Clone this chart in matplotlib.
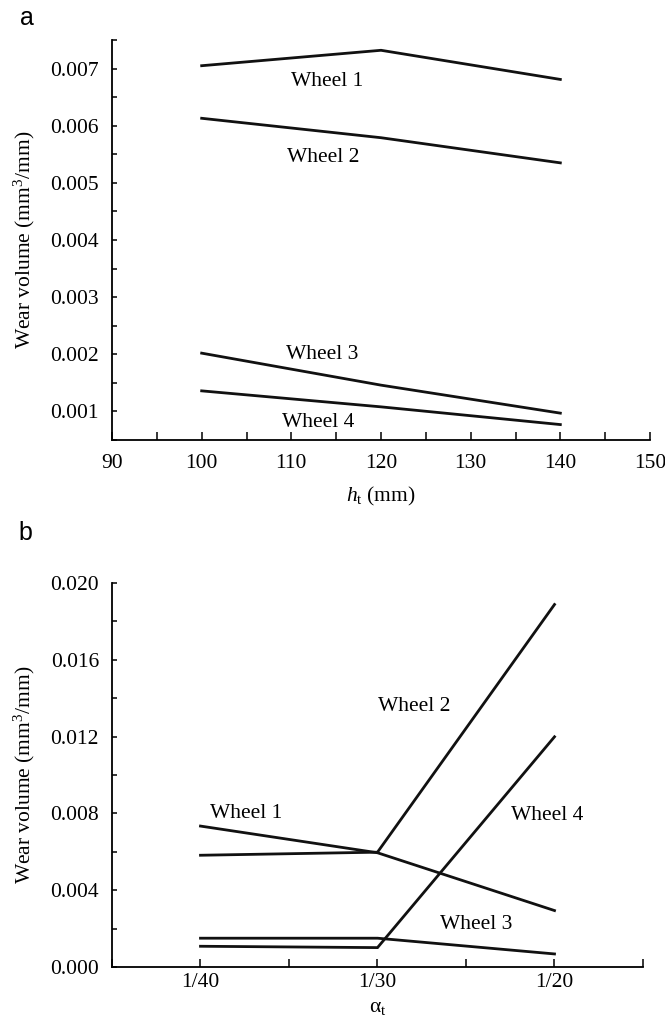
import matplotlib
matplotlib.use("Agg")
import matplotlib.pyplot as plt
from matplotlib.ticker import MultipleLocator, FixedLocator

plt.rcParams['font.family'] = ['Liberation Serif', 'DejaVu Serif']
plt.rcParams['mathtext.fontset'] = 'custom'
plt.rcParams['mathtext.rm'] = 'Liberation Serif'
plt.rcParams['mathtext.it'] = 'Liberation Serif:italic'
plt.rcParams['mathtext.bf'] = 'Liberation Serif:bold'

# ---- Panel a data ----
ht = [100, 120, 140]
a_wheel1 = [0.00705, 0.00732, 0.00681]
a_wheel2 = [0.00613, 0.00579, 0.00535]
a_wheel3 = [0.00202, 0.00146, 0.00097]
a_wheel4 = [0.00136, 0.00108, 0.00077]

# ---- Panel b data ----
alpha_labels = ['1/40', '1/30', '1/20']
b_wheel1 = [0.00734, 0.00595, 0.00294]
b_wheel2 = [0.00582, 0.00598, 0.01888]
b_wheel3 = [0.00150, 0.00150, 0.00068]
b_wheel4 = [0.00108, 0.00101, 0.01199]

W, H = 665, 1019
fig = plt.figure(figsize=(W / 100, H / 100), dpi=100)

def frac(l, t, r, b):
    return [l / W, 1 - b / H, (r - l) / W, (b - t) / H]

FS = 15.5
lw = 2.0

def style(ax, xpad):
    for s in ['top', 'right']:
        ax.spines[s].set_visible(False)
    for s in ['left', 'bottom']:
        ax.spines[s].set_linewidth(1.3)
    ax.tick_params(axis='x', which='both', direction='in', length=6, width=1.1,
                   labelsize=FS, pad=xpad)
    ax.tick_params(axis='y', which='both', direction='in', length=3.5, width=1.1,
                   labelsize=FS, pad=9.4)

# Panel a
ax1 = fig.add_axes(frac(112, 40, 650, 440))
for ys in (a_wheel1, a_wheel2, a_wheel3, a_wheel4):
    ax1.plot(ht, ys, color='#111111', lw=lw, solid_joinstyle='miter')
ax1.set_xlim(90, 150)
ax1.set_ylim(0.0005, 0.0075)
ax1.xaxis.set_major_locator(MultipleLocator(10))
ax1.xaxis.set_minor_locator(MultipleLocator(5))
ax1.yaxis.set_major_locator(FixedLocator([0.001, 0.002, 0.003, 0.004, 0.005, 0.006, 0.007]))
ax1.yaxis.set_minor_locator(MultipleLocator(0.0005))
ax1.yaxis.set_major_formatter(matplotlib.ticker.FormatStrFormatter('%.3f'))
style(ax1, 10.4)
ax1.set_xlabel(r'$\mathit{h}_{\mathrm{t}}$ (mm)', fontsize=FS, labelpad=8)
ax1.set_ylabel(r'Wear volume (mm$^3$/mm)', fontsize=FS, labelpad=9.4)
ax1.text(114, 0.00677, 'Wheel 1', fontsize=FS, ha='center', va='center')
ax1.text(113.5, 0.00545, 'Wheel 2', fontsize=FS, ha='center', va='center')
ax1.text(113.4, 0.0020, 'Wheel 3', fontsize=FS, ha='center', va='center')
ax1.text(113, 0.0008, 'Wheel 4', fontsize=FS, ha='center', va='center')
fig.text(20 / W, 1 - 18 / H, 'a', fontsize=18, family='Liberation Sans', va='center')

# Panel b
ax2 = fig.add_axes(frac(112, 583, 643, 967))
xb = range(len(alpha_labels))
for ys in (b_wheel1, b_wheel2, b_wheel3, b_wheel4):
    ax2.plot(list(xb), ys, color='#111111', lw=lw, solid_joinstyle='miter')
ax2.set_xlim(-0.5, 2.5)
ax2.set_ylim(0.0, 0.020)
ax2.set_xticks(list(xb))
ax2.set_xticklabels(alpha_labels)
ax2.xaxis.set_minor_locator(FixedLocator([-0.5, 0.5, 1.5, 2.5]))
ax2.yaxis.set_major_locator(MultipleLocator(0.004))
ax2.yaxis.set_minor_locator(MultipleLocator(0.002))
ax2.yaxis.set_major_formatter(matplotlib.ticker.FormatStrFormatter('%.3f'))
style(ax2, 4)
ax2.set_xlabel(r'$\mathrm{\alpha}_{\mathrm{t}}$', fontsize=FS, labelpad=4.5)
ax2.set_ylabel(r'Wear volume (mm$^3$/mm)', fontsize=FS, labelpad=9.4)
ax2.text(0.26, 0.0080, 'Wheel 1', fontsize=FS, ha='center', va='center')
ax2.text(1.21, 0.01356, 'Wheel 2', fontsize=FS, ha='center', va='center')
ax2.text(1.56, 0.0022, 'Wheel 3', fontsize=FS, ha='center', va='center')
ax2.text(1.96, 0.0079, 'Wheel 4', fontsize=FS, ha='center', va='center')
fig.text(18 / W, 1 - 533 / H, 'b', fontsize=18, family='Liberation Sans', va='center')

fig.savefig('out.png', dpi=100)
